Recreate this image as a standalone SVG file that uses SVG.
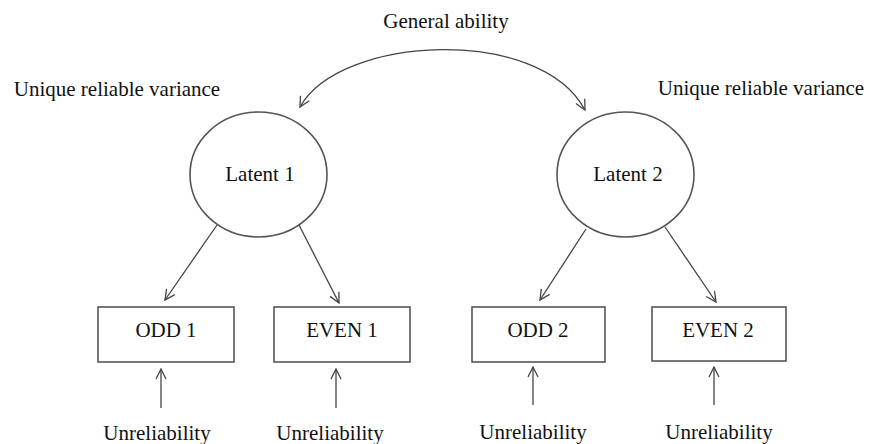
<svg xmlns="http://www.w3.org/2000/svg" width="871" height="444" viewBox="0 0 871 444">
<style>
text{font-family:"Liberation Serif","Times New Roman",serif;font-size:21px;fill:#111;text-anchor:middle}
.n{fill:#fff;stroke:#555;stroke-width:1.6}
.c path,.c line{fill:none;stroke:#444;stroke-width:1.3}
</style>
<defs>
<marker id="ah" viewBox="0 0 12 12" refX="11" refY="6" markerWidth="12" markerHeight="12" markerUnits="userSpaceOnUse" orient="auto-start-reverse">
<polyline points="1,1 11,6 1,11" fill="none" stroke="#444" stroke-width="1.3"/>
</marker>
</defs>
<rect width="871" height="444" fill="#fff"/>
<text x="446" y="28">General ability</text>
<text x="117" y="96">Unique reliable variance</text>
<text x="761" y="95">Unique reliable variance</text>
<g id="latent1"><ellipse class="n" cx="258.5" cy="174.5" rx="68.5" ry="62.5"/><text x="260" y="181">Latent 1</text></g>
<g id="latent2"><ellipse class="n" cx="625.5" cy="174.5" rx="68.5" ry="62.5"/><text x="628" y="181">Latent 2</text></g>
<g id="odd1"><rect class="n" x="98" y="307" width="136" height="55"/><text x="166" y="337">ODD 1</text></g>
<g id="even1"><rect class="n" x="274" y="307" width="136" height="55"/><text x="342" y="337">EVEN 1</text></g>
<g id="odd2"><rect class="n" x="472" y="307" width="133" height="55"/><text x="538" y="337">ODD 2</text></g>
<g id="even2"><rect class="n" x="652" y="307" width="134" height="54"/><text x="718" y="337">EVEN 2</text></g>
<g id="u1"><text x="157" y="440">Unreliability</text></g>
<g id="u2"><text x="330" y="440">Unreliability</text></g>
<g id="u3"><text x="533" y="439">Unreliability</text></g>
<g id="u4"><text x="719" y="439">Unreliability</text></g>
<g class="c" id="connectors">
<path d="M300,107 C340,35 540,25 585,110" marker-start="url(#ah)" marker-end="url(#ah)"/>
<line x1="217" y1="225" x2="165" y2="300" marker-end="url(#ah)"/>
<line x1="299" y1="225" x2="339" y2="303" marker-end="url(#ah)"/>
<line x1="586" y1="229" x2="540" y2="300" marker-end="url(#ah)"/>
<line x1="665" y1="227" x2="716" y2="302" marker-end="url(#ah)"/>
<line x1="161" y1="408" x2="161" y2="369" marker-end="url(#ah)"/>
<line x1="336" y1="408" x2="336" y2="369" marker-end="url(#ah)"/>
<line x1="533" y1="405" x2="533" y2="367" marker-end="url(#ah)"/>
<line x1="714" y1="405" x2="714" y2="367" marker-end="url(#ah)"/>
</g>
</svg>
